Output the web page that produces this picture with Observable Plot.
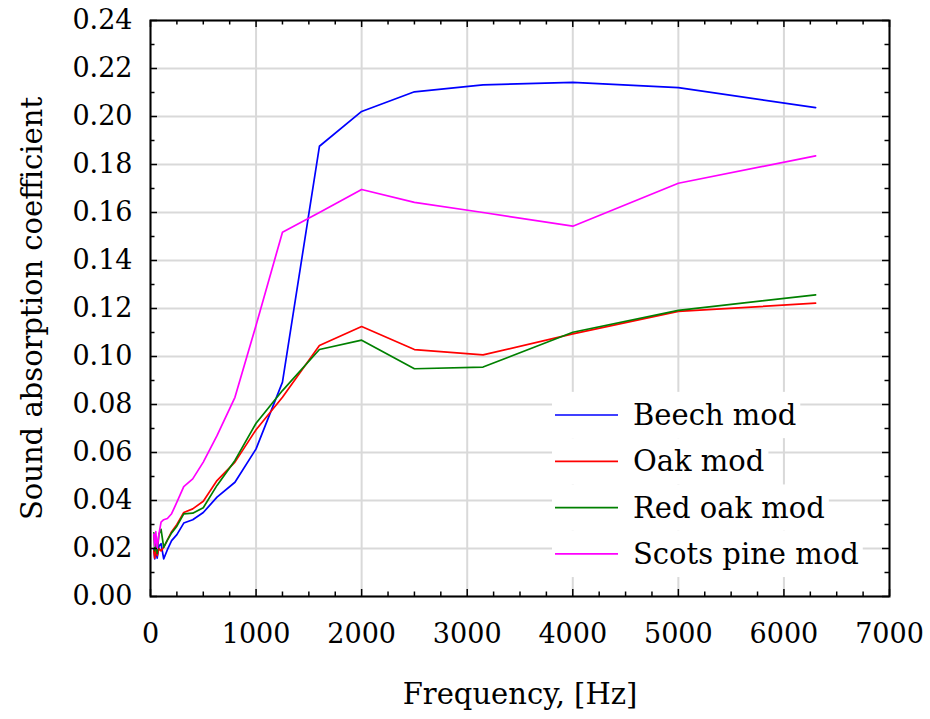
<!DOCTYPE html>
<html>
<head>
<meta charset="utf-8">
<script src="https://cdn.jsdelivr.net/npm/d3@7"></script>
<script src="https://cdn.jsdelivr.net/npm/@observablehq/plot@0.6"></script>
<style>
  html, body { margin: 0; padding: 0; background: white; }
</style>
</head>
<body>
<div id="chart"></div>
<script>
// Third-octave band centre frequencies (Hz)
const freqs = [31.5, 40, 50, 63, 80, 100, 125, 160, 200, 250, 315, 400, 500, 630, 800, 1000, 1250, 1600, 2000, 2500, 3150, 4000, 5000, 6300];
const seriesNames = ["Beech mod", "Oak mod", "Red oak mod", "Scots pine mod"];
const seriesColors = ["#0000ff", "#ff0000", "#008000", "#ff00ff"];
const beech     = [0.020, 0.0157, 0.020, 0.016, 0.021, 0.022, 0.0157, 0.0195, 0.0233, 0.0258, 0.0306, 0.032, 0.035, 0.0414, 0.0476, 0.0615, 0.0893, 0.1876, 0.2021, 0.2103, 0.2132, 0.2142, 0.2120, 0.2037];
const oak       = [0.019, 0.016, 0.021, 0.017, 0.020, 0.019, 0.0205, 0.0235, 0.027, 0.030, 0.035, 0.0365, 0.0397, 0.0483, 0.056, 0.0695, 0.083, 0.1046, 0.1125, 0.1029, 0.1007, 0.1094, 0.1188, 0.1222];
const redOak    = [0.0265, 0.019, 0.024, 0.018, 0.026, 0.028, 0.0205, 0.0235, 0.0265, 0.0293, 0.0344, 0.0347, 0.037, 0.0463, 0.0567, 0.0722, 0.0858, 0.1029, 0.1068, 0.0949, 0.0956, 0.1101, 0.1192, 0.1257];
const scotsPine = [0.026, 0.021, 0.027, 0.020, 0.026, 0.031, 0.032, 0.0325, 0.0345, 0.0393, 0.0458, 0.049, 0.056, 0.067, 0.083, 0.113, 0.1518, 0.160, 0.1696, 0.1642, 0.160, 0.1543, 0.1722, 0.1836];
const xMajor = d3.range(0, 7001, 1000);
const xMinor = d3.range(0, 7001, 250).filter(v => v % 1000 !== 0);
const yMajor = d3.range(0, 13).map(i => +(i * 0.02).toFixed(2));
const yMinor = d3.range(0, 12).map(i => +(i * 0.02 + 0.01).toFixed(2));

const allSeries = [beech, oak, redOak, scotsPine];
const data = [];
allSeries.forEach((vals, s) => vals.forEach((v, i) => data.push({series: seriesNames[s], f: freqs[i], v})));

const W = 930, H = 719, mL = 150, mR = 41, mT = 20, mB = 123;
const pw = W - mL - mR, ph = H - mT - mB;
const FONT = "DejaVu Serif";
const major = 7, minor = 4.5;

const chart = Plot.plot({
  width: W, height: H,
  marginLeft: mL, marginRight: mR, marginTop: mT, marginBottom: mB,
  style: {fontFamily: FONT, background: "white", color: "black"},
  x: {domain: [0, 7000]},
  y: {domain: [0, 0.24]},
  color: {domain: seriesNames, range: seriesColors},
  marks: [
    Plot.gridX(xMajor, {stroke: "#d9d9d9", strokeOpacity: 1, strokeWidth: 2}),
    Plot.gridY(yMajor, {stroke: "#d9d9d9", strokeOpacity: 1, strokeWidth: 2}),
    Plot.line(data, {x: "f", y: "v", z: "series", stroke: "series", strokeWidth: 1.7}),
    // inward ticks
    Plot.ruleX(xMajor, {x: d => d, insetTop: ph - major, stroke: "black", strokeWidth: 1.5}),
    Plot.ruleX(xMajor, {x: d => d, insetBottom: ph - major, stroke: "black", strokeWidth: 1.5}),
    Plot.ruleX(xMinor, {x: d => d, insetTop: ph - minor, stroke: "black", strokeWidth: 1.5}),
    Plot.ruleX(xMinor, {x: d => d, insetBottom: ph - minor, stroke: "black", strokeWidth: 1.5}),
    Plot.ruleY(yMajor, {y: d => d, insetRight: pw - major, stroke: "black", strokeWidth: 1.5}),
    Plot.ruleY(yMajor, {y: d => d, insetLeft: pw - major, stroke: "black", strokeWidth: 1.5}),
    Plot.ruleY(yMinor, {y: d => d, insetRight: pw - minor, stroke: "black", strokeWidth: 1.5}),
    Plot.ruleY(yMinor, {y: d => d, insetLeft: pw - minor, stroke: "black", strokeWidth: 1.5}),
    Plot.frame({stroke: "black", strokeWidth: 2}),
    Plot.axisX(xMajor, {anchor: "bottom", tickSize: 0, tickPadding: 27, fontSize: 27, tickFormat: d => String(d), label: null}),
    Plot.axisY(yMajor, {anchor: "left", tickSize: 0, tickPadding: 18, fontSize: 27, tickFormat: d => d.toFixed(2), label: null}),
    Plot.text(["Frequency, [Hz]"], {frameAnchor: "bottom", dy: 98, fontSize: 29, lineAnchor: "middle", fill: "black"}),
    Plot.text(["Sound absorption coefficient"], {frameAnchor: "left", dx: -118, rotate: -90, fontSize: 29, textAnchor: "middle", lineAnchor: "middle", fill: "black"})
  ]
});
document.getElementById("chart").appendChild(chart);

// Legend inside plot area
const svg = d3.select(chart);
const lg = svg.append("g").attr("font-family", FONT).attr("font-size", 29).attr("text-anchor", "start");
const rowY0 = 415, rowStep = 46.3, lineX0 = 555, lineX1 = 618, textX = 633;
seriesNames.forEach((name, i) => {
  const cy = rowY0 + i * rowStep;
  const rect = lg.append("rect").attr("fill", "white");
  lg.append("line").attr("x1", lineX0).attr("x2", lineX1).attr("y1", cy).attr("y2", cy)
    .attr("stroke", seriesColors[i]).attr("stroke-width", 1.7);
  const t = lg.append("text").attr("x", textX).attr("y", cy).attr("dy", "0.35em")
    .attr("text-anchor", "start").attr("fill", "black").text(name);
  const w = t.node().getComputedTextLength();
  rect.attr("x", 552).attr("y", cy - rowStep / 2).attr("width", textX + w + 4 - 552).attr("height", rowStep);
});
</script>
</body>
</html>
